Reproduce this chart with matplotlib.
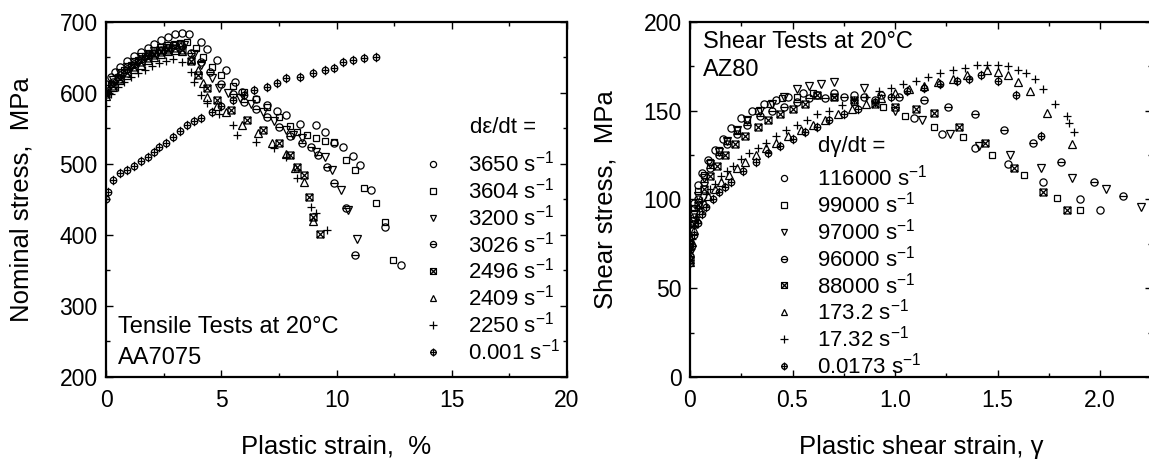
import matplotlib
matplotlib.use("Agg")
import matplotlib.pyplot as plt
from matplotlib.lines import Line2D
from matplotlib.path import Path
from matplotlib.ticker import MultipleLocator

plt.rcParams["font.family"] = ["Liberation Sans", "DejaVu Sans"]
plt.rcParams["mathtext.fontset"] = "custom"
plt.rcParams["mathtext.rm"] = "Liberation Sans"
plt.rcParams["mathtext.it"] = "Liberation Sans:italic"

# ---------------- tensile tests, AA7075 (plastic strain %, nominal stress MPa)
t_labels = ["3650", "3604", "3200", "3026", "2496", "2409", "2250", "0.001"]

t3650_x = [0.0, 0.2, 0.4, 0.6, 0.9, 1.2, 1.5, 1.8, 2.1, 2.4, 2.7, 3.0, 3.3, 3.6, 4.1, 4.4, 4.8, 5.2,
           5.6, 5.9, 6.5, 7.0, 7.4, 7.8, 8.4, 9.1, 9.5, 9.9, 10.3, 10.7, 11.0, 11.5, 12.1, 12.8]
t3650_y = [612, 622, 630, 637, 645, 652, 658, 664, 669, 674, 679, 683, 684, 683, 672, 662, 646, 632,
           616, 602, 592, 583, 575, 569, 557, 555, 545, 530, 524, 511, 499, 463, 411, 358]
t3604_x = [0.0, 0.2, 0.5, 0.8, 1.1, 1.4, 1.7, 2.0, 2.3, 2.6, 2.9, 3.2, 3.5, 3.9, 4.2, 4.6, 5.0,
           5.5, 6.0, 6.5, 7.0, 7.5, 8.0, 8.3, 8.7, 9.1, 9.5, 9.9, 10.4, 10.8, 11.2, 11.7, 12.1, 12.45]
t3604_y = [600, 612, 622, 632, 640, 646, 652, 657, 661, 665, 668, 671, 672, 664, 651, 637, 625,
           610, 601, 591, 580, 566, 553, 545, 541, 536, 533, 531, 506, 492, 466, 445, 418, 365]
t3200_x = [0.0, 0.3, 0.6, 0.9, 1.2, 1.5, 1.8, 2.1, 2.4, 2.7, 3.0, 3.4, 3.8, 4.1, 4.6, 4.9, 5.3,
           5.8, 6.3, 6.8, 7.3, 7.8, 8.1, 8.5, 9.1, 9.5, 9.8, 10.2, 10.5, 10.9]
t3200_y = [605, 618, 628, 636, 643, 650, 655, 659, 663, 666, 668, 667, 655, 639, 621, 607, 600,
           593, 584, 573, 560, 548, 541, 536, 517, 510, 492, 463, 435, 394]
t3026_x = [0.0, 0.3, 0.6, 0.9, 1.2, 1.5, 1.8, 2.1, 2.4, 2.7, 3.0, 3.3, 3.7, 4.1, 4.5, 5.0, 5.5,
           6.0, 6.5, 7.0, 7.5, 8.0, 8.5, 8.9, 9.2, 9.6, 9.9, 10.4, 10.8]
t3026_y = [602, 616, 626, 634, 641, 648, 653, 657, 661, 664, 667, 666, 657, 643, 630, 612, 598,
           588, 578, 566, 552, 540, 530, 524, 512, 496, 473, 438, 372]
t2496_x = [0.0, 0.3, 0.6, 0.9, 1.2, 1.5, 1.8, 2.1, 2.4, 2.7, 3.0, 3.3, 3.7, 4.0, 4.4, 4.8, 5.4,
           6.1, 6.8, 7.5, 8.0, 8.3, 8.6, 8.8, 9.0, 9.3]
t2496_y = [598, 610, 620, 628, 636, 643, 649, 654, 658, 661, 663, 660, 645, 625, 607, 590, 576,
           562, 548, 529, 512, 496, 485, 454, 425, 401]
t2409_x = [0.0, 0.3, 0.6, 0.9, 1.2, 1.5, 1.8, 2.1, 2.4, 2.7, 3.0, 3.3, 3.7, 4.0, 4.2, 4.4, 4.8,
           5.2, 5.9, 6.6, 7.2, 7.8, 8.2, 8.6, 9.0]
t2409_y = [596, 608, 618, 626, 634, 640, 646, 651, 655, 659, 661, 659, 648, 632, 614, 594, 582,
           573, 555, 543, 530, 514, 495, 475, 420]
t2250_x = [0.0, 0.2, 0.5, 0.8, 1.1, 1.4, 1.7, 2.0, 2.3, 2.6, 2.9, 3.3, 3.7, 3.8, 4.1, 4.4, 4.9,
           5.5, 5.7, 6.5, 7.3, 7.8, 8.3, 8.9, 9.1, 9.6]
t2250_y = [582, 598, 608, 616, 622, 628, 633, 638, 642, 645, 648, 644, 630, 616, 597, 586, 570,
           555, 541, 531, 522, 510, 480, 439, 431, 407]
t0001_x = [0.0, 0.1, 0.3, 0.6, 0.9, 1.2, 1.5, 1.8, 2.1, 2.3, 2.6, 2.9, 3.2, 3.5, 3.8, 4.1, 4.6,
           5.0, 5.5, 6.0, 6.4, 7.0, 7.4, 7.8, 8.4, 9.0, 9.5, 9.9, 10.3, 10.7, 11.2, 11.7]
t0001_y = [450, 460, 477, 487, 492, 497, 504, 510, 517, 524, 530, 538, 546, 555, 560, 565, 573,
           582, 590, 597, 604, 608, 614, 621, 623, 628, 632, 635, 644, 647, 649, 650]

# ---------------- shear tests, AZ80 (plastic shear strain, shear stress MPa)
s_labels = ["116000", "99000", "97000", "96000", "88000", "173.2", "17.32", "0.0173"]

s116000_x = [0.0, 0.01, 0.02, 0.04, 0.06, 0.09, 0.12, 0.16, 0.2, 0.25, 0.3, 0.36, 0.42, 0.48,
             0.55, 0.62, 0.7, 0.8, 0.9, 1.09, 1.23, 1.39, 1.55, 1.72, 1.9, 2.0]
s116000_y = [72, 88, 98, 108, 115, 122, 128, 134, 140, 146, 150, 154, 156, 158,
             160, 159, 160, 159, 156, 146, 137, 129, 120, 110, 100, 94]
s99000_x = [0.0, 0.02, 0.04, 0.07, 0.1, 0.14, 0.18, 0.23, 0.28, 0.33, 0.39, 0.45, 0.52, 0.6,
            0.7, 0.8, 0.94, 1.05, 1.19, 1.33, 1.47, 1.63, 1.79, 1.9]
s99000_y = [75, 95, 105, 114, 121, 128, 133, 139, 145, 150, 154, 157, 158, 160,
            158, 155, 152, 147, 141, 135, 125, 114, 101, 94]
s97000_x = [0.0, 0.02, 0.04, 0.07, 0.1, 0.14, 0.18, 0.23, 0.28, 0.34, 0.4, 0.46, 0.52, 0.58,
            0.64, 0.7, 0.85, 1.0, 1.13, 1.27, 1.41, 1.56, 1.71, 1.86, 2.03, 2.2]
s97000_y = [70, 92, 102, 112, 120, 127, 133, 139, 145, 150, 154, 158, 162, 164,
            165, 166, 163, 150, 145, 137, 130, 125, 118, 112, 106, 96]
s96000_x = [0.0, 0.02, 0.04, 0.07, 0.1, 0.14, 0.18, 0.23, 0.28, 0.34, 0.4, 0.46, 0.52, 0.58,
            0.66, 0.75, 0.85, 0.93, 1.02, 1.14, 1.26, 1.39, 1.53, 1.67, 1.81, 1.97, 2.11]
s96000_y = [68, 90, 100, 110, 118, 125, 131, 137, 142, 147, 150, 152, 155, 157,
            157, 158, 158, 159, 158, 156, 152, 148, 139, 132, 121, 110, 102]
s88000_x = [0.0, 0.02, 0.04, 0.07, 0.1, 0.13, 0.17, 0.22, 0.27, 0.33, 0.38, 0.44, 0.5, 0.56,
            0.62, 0.7, 0.8, 0.9, 1.0, 1.1, 1.19, 1.31, 1.44, 1.58, 1.72, 1.84]
s88000_y = [66, 86, 97, 106, 113, 119, 125, 131, 136, 141, 145, 148, 151, 154,
            159, 158, 156, 154, 152, 151, 149, 141, 132, 118, 104, 94]
s173_x = [0.0, 0.01, 0.02, 0.035, 0.05, 0.07, 0.09, 0.12, 0.15, 0.19, 0.23, 0.27, 0.32, 0.37,
          0.42, 0.48, 0.54, 0.6, 0.66, 0.72, 0.79, 0.86, 0.93, 1.0, 1.07, 1.14, 1.21, 1.28,
          1.35, 1.45, 1.5, 1.55, 1.6, 1.66, 1.74, 1.86]
s173_y = [65, 76, 83, 89, 94, 98, 102, 106, 110, 114, 118, 121, 125, 129,
          132, 136, 139, 142, 145, 148, 151, 154, 157, 160, 162, 164, 166, 168,
          170, 173, 172, 170, 166, 161, 149, 131]
s17_x = [0.0, 0.005, 0.01, 0.02, 0.03, 0.045, 0.06, 0.08, 0.1, 0.12, 0.15, 0.18, 0.21, 0.25,
         0.29, 0.33, 0.37, 0.42, 0.47, 0.52, 0.57, 0.62, 0.68, 0.74, 0.8, 0.86, 0.92, 0.98,
         1.04, 1.1, 1.16, 1.22, 1.28, 1.34, 1.4, 1.45, 1.5, 1.55, 1.6, 1.64, 1.68, 1.72,
         1.78, 1.84, 1.85, 1.87]
s17_y = [66, 72, 78, 85, 90, 95, 99, 103, 106, 109, 113, 116, 119, 123,
         126, 129, 132, 136, 139, 142, 145, 148, 150, 153, 156, 158, 161, 163,
         165, 167, 169, 171, 173, 174, 176, 176, 176, 175, 173, 171, 168, 162,
         154, 147, 143, 138]
s0173_x = [0.0, 0.01, 0.02, 0.04, 0.06, 0.08, 0.11, 0.14, 0.17, 0.2, 0.26, 0.32, 0.38, 0.44,
           0.5, 0.56, 0.62, 0.68, 0.75, 0.82, 0.9, 0.98, 1.06, 1.14, 1.22, 1.3, 1.36, 1.42,
           1.5, 1.59, 1.71]
s0173_y = [64, 74, 80, 87, 92, 96, 100, 104, 107, 110, 116, 121, 126, 130,
           134, 138, 141, 145, 148, 151, 155, 158, 161, 163, 165, 167, 168, 170,
           167, 159, 136]


def compound(*parts):
    return Path.make_compound_path(*parts)


def seg(p0, p1):
    return Path([p0, p1], [Path.MOVETO, Path.LINETO])


circle_bar = compound(Path.unit_circle(), seg((-1, 0), (1, 0)))
square_x = compound(Path.unit_rectangle().transformed(
    matplotlib.transforms.Affine2D().translate(-0.5, -0.5).scale(2)),
    seg((-1, -1), (1, 1)), seg((-1, 1), (1, -1)))
circle_plus = compound(Path.unit_circle(), seg((-1, 0), (1, 0)), seg((0, -1.45), (0, 1.45)))

markers = ["o", "s", "v", circle_bar, square_x, "^", "+", circle_plus]
sizes = [5.2, 5.0, 5.4, 5.2, 5.0, 5.4, 6.2, 6.8]

tensile = [(t3650_x, t3650_y), (t3604_x, t3604_y), (t3200_x, t3200_y), (t3026_x, t3026_y),
           (t2496_x, t2496_y), (t2409_x, t2409_y), (t2250_x, t2250_y), (t0001_x, t0001_y)]
shear = [(s116000_x, s116000_y), (s99000_x, s99000_y), (s97000_x, s97000_y),
         (s96000_x, s96000_y), (s88000_x, s88000_y), (s173_x, s173_y), (s17_x, s17_y),
         (s0173_x, s0173_y)]

TICK_FS = 16.5
LEG_FS = 16
NOTE_FS = 17
LABEL_FS = 18.5

fig = plt.figure(figsize=(11.49, 4.62), dpi=100)
ax1 = fig.add_axes([0.0923, 0.184, 0.4012, 0.7684])
ax2 = fig.add_axes([0.6005, 0.184, 0.4017, 0.7684])


def style(ax):
    for sp in ax.spines.values():
        sp.set_linewidth(1.6)
    ax.tick_params(which="both", direction="in", top=True, right=True, labelsize=TICK_FS,
                   width=1.0)
    ax.tick_params(axis="x", which="both", pad=9)
    ax.tick_params(axis="y", which="both", pad=6)
    ax.tick_params(which="major", length=5)
    ax.tick_params(which="minor", length=3)


def draw(ax, data):
    handles = []
    for (x, y), m, ms in zip(data, markers, sizes):
        ax.plot(x, y, ls="none", marker=m, ms=ms, mfc="none", mec="black", mew=0.9)
        handles.append(Line2D([], [], ls="none", marker=m, ms=ms * 0.85, mfc="none",
                              mec="black", mew=0.9))
    return handles


h1 = draw(ax1, tensile)
style(ax1)
ax1.set_xlim(0, 20)
ax1.set_ylim(200, 700)
ax1.xaxis.set_major_locator(MultipleLocator(5))
ax1.xaxis.set_minor_locator(MultipleLocator(2.5))
ax1.yaxis.set_major_locator(MultipleLocator(100))
ax1.yaxis.set_minor_locator(MultipleLocator(50))
ax1.set_xlabel("Plastic strain,  %", fontsize=LABEL_FS, labelpad=16)
ax1.set_ylabel("Nominal stress,  MPa", fontsize=LABEL_FS, labelpad=19)
ax1.text(0.026, 0.141, "Tensile Tests at 20°C", transform=ax1.transAxes, fontsize=NOTE_FS,
         va="center")
ax1.text(0.026, 0.053, "AA7075", transform=ax1.transAxes, fontsize=NOTE_FS, va="center")
ax1.text(0.79, 0.704, "dε/dt =", transform=ax1.transAxes, fontsize=LEG_FS, va="center")
ax1.legend(h1, [f"{v} s$^{{-1}}$" for v in t_labels], loc="upper left",
           bbox_to_anchor=(0.685, 0.637), frameon=False, fontsize=LEG_FS, borderpad=0,
           borderaxespad=0, handlelength=1.0, handletextpad=1.1, labelspacing=0.04)

h2 = draw(ax2, shear)
style(ax2)
ax2.set_xlim(0, 2.25)
ax2.set_ylim(0, 200)
ax2.xaxis.set_major_locator(MultipleLocator(0.5))
ax2.xaxis.set_minor_locator(MultipleLocator(0.25))
ax2.yaxis.set_major_locator(MultipleLocator(50))
ax2.yaxis.set_minor_locator(MultipleLocator(25))
ax2.set_xticks([0, 0.5, 1.0, 1.5, 2.0], ["0", "0.5", "1.0", "1.5", "2.0"])
ax2.set_xlabel("Plastic shear strain, γ", fontsize=LABEL_FS, labelpad=16)
ax2.set_ylabel("Shear stress,  MPa", fontsize=LABEL_FS, labelpad=19)
ax2.text(0.028, 0.944, "Shear Tests at 20°C", transform=ax2.transAxes, fontsize=NOTE_FS,
         va="center")
ax2.text(0.028, 0.865, "AZ80", transform=ax2.transAxes, fontsize=NOTE_FS, va="center")
ax2.text(0.277, 0.648, "dγ/dt =", transform=ax2.transAxes, fontsize=LEG_FS, va="center")
ax2.legend(h2, [f"{v} s$^{{-1}}$" for v in s_labels], loc="upper left",
           bbox_to_anchor=(0.1796, 0.597), frameon=False, fontsize=LEG_FS, borderpad=0,
           borderaxespad=0, handlelength=1.0, handletextpad=1.0, labelspacing=0.04)

fig.savefig("out.png", dpi=100)
